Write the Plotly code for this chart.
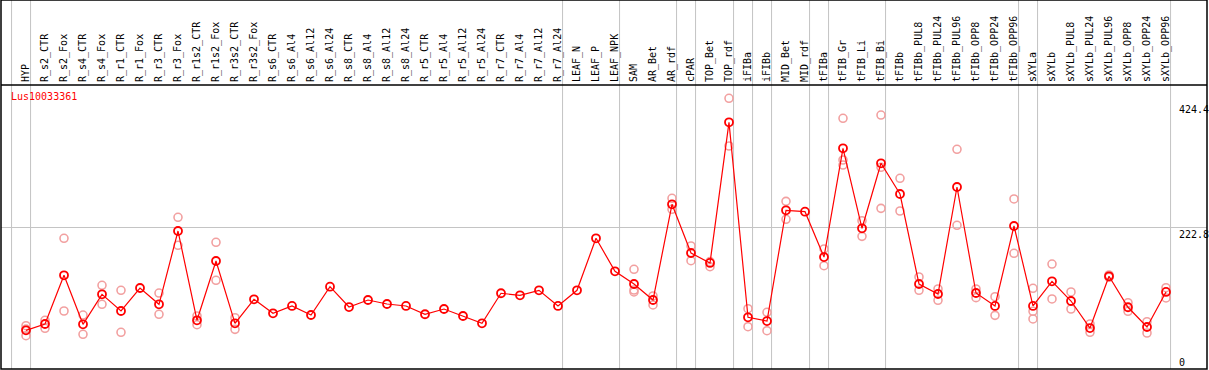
import plotly.graph_objects as go

gene = "Lus10033361"

categories = [
    "HYP", "R_s2_CTR", "R_s2_Fox", "R_s4_CTR", "R_s4_Fox", "R_r1_CTR", "R_r1_Fox",
    "R_r3_CTR", "R_r3_Fox", "R_r1s2_CTR", "R_r1s2_Fox", "R_r3s2_CTR", "R_r3s2_Fox",
    "R_s6_CTR", "R_s6_Al4", "R_s6_Al12", "R_s6_Al24", "R_s8_CTR", "R_s8_Al4",
    "R_s8_Al12", "R_s8_Al24", "R_r5_CTR", "R_r5_Al4", "R_r5_Al12", "R_r5_Al24",
    "R_r7_CTR", "R_r7_Al4", "R_r7_Al12", "R_r7_Al24", "LEAF_N", "LEAF_P", "LEAF_NPK",
    "SAM", "AR_Bet", "AR_rdf", "cPAR", "TOP_Bet", "TOP_rdf", "iFIBa", "iFIBb",
    "MID_Bet", "MID_rdf", "tFIBa", "tFIB_Gr", "tFIB_Li", "tFIB_Bi", "tFIBb",
    "tFIBb_PUL8", "tFIBb_PUL24", "tFIBb_PUL96", "tFIBb_OPP8", "tFIBb_OPP24",
    "tFIBb_OPP96", "sXYLa", "sXYLb", "sXYLb_PUL8", "sXYLb_PUL24", "sXYLb_PUL96",
    "sXYLb_OPP8", "sXYLb_OPP24", "sXYLb_OPP96",
]

means = [
    57.1, 67.3, 145.9, 66.8, 115.2, 88.3, 125.4, 99.1, 217.4, 73.3, 169.0, 68.4, 107.2,
    84.6, 96.4, 81.8, 127.5, 94.7, 106.0, 99.6, 96.4, 83.0, 91.5, 80.2, 68.4,
    116.9, 113.6, 121.7, 96.4, 121.7, 205.6, 152.4,
    131.9, 106.0, 260.5, 181.9, 165.8, 392.8, 78.1, 72.1, 250.8, 248.6, 175.4,
    350.9, 221.8, 326.7, 277.1, 131.9, 115.7, 288.4, 117.3, 96.4, 225.5,
    96.4, 136.2, 104.4, 60.8, 144.3, 94.3, 62.5, 119.0,
]

replicates = {
    "HYP": [64.6, 59.2, 48.4],
    "R_s2_CTR": [73.3, 60.4],
    "R_s2_Fox": [205.6, 88.3],
    "R_s4_CTR": [81.8, 50.7],
    "R_s4_Fox": [129.8, 99.1],
    "R_r1_CTR": [121.7, 53.9],
    "R_r3_CTR": [117.3, 83.0],
    "R_r3_Fox": [239.5, 194.3],
    "R_r1s2_CTR": [80.2, 66.2],
    "R_r1s2_Fox": [199.2, 137.8],
    "R_r3s2_CTR": [77.5, 58.7],
    "SAM": [155.6, 122.2, 119.0],
    "AR_Bet": [112.5, 98.0],
    "AR_rdf": [270.2, 252.4],
    "cPAR": [193.2, 169.5],
    "TOP_Bet": [167.9, 159.8],
    "TOP_rdf": [431.6, 354.6],
    "iFIBa": [92.0, 62.9],
    "iFIBb": [86.2, 56.5],
    "MID_Bet": [265.3, 236.3],
    "tFIBa": [188.4, 161.4],
    "tFIB_Gr": [399.3, 332.0, 323.9],
    "tFIB_Li": [234.0, 208.8],
    "tFIB_Bi": [404.6, 320.2, 254.0],
    "tFIBb": [302.5, 249.7],
    "tFIBb_PUL8": [143.2, 121.7],
    "tFIBb_PUL24": [123.8, 105.6],
    "tFIBb_PUL96": [349.3, 226.6],
    "tFIBb_OPP8": [123.8, 109.8],
    "tFIBb_OPP24": [111.4, 81.3],
    "tFIBb_OPP96": [269.1, 181.4],
    "sXYLa": [124.9, 87.8, 75.4],
    "sXYLb": [164.1, 107.7],
    "sXYLb_PUL8": [119.0, 91.5],
    "sXYLb_PUL24": [67.3, 53.9],
    "sXYLb_PUL96": [146.4, 142.7],
    "sXYLb_OPP8": [101.7, 87.8],
    "sXYLb_OPP24": [71.0, 52.8],
    "sXYLb_OPP96": [125.9, 109.3],
}

# group separators are drawn after these categories (None = before the first)
group_ends = [None, "HYP", "R_r7_Al24", "LEAF_NPK", "AR_rdf", "cPAR", "TOP_rdf",
              "iFIBa", "iFIBb", "MID_rdf", "tFIBa", "tFIB_Bi", "tFIBb_OPP96",
              "sXYLa", "sXYLb_OPP96"]

scale_ticks = [0, 222.8, 424.4]

FONT = "DejaVu Sans Mono"
W, H = 1209, 370
ML, MR, MT, MB = 1, 2, 85, 1

xs = list(range(len(categories)))
rep_x, rep_y = [], []
for i, c in enumerate(categories):
    for v in replicates.get(c, []):
        rep_x.append(i)
        rep_y.append(v)

fig = go.Figure()
fig.add_trace(go.Scatter(
    x=rep_x, y=rep_y, mode="markers",
    marker=dict(symbol="circle-open", size=8, color="#f2a0a0",
                line=dict(width=1.6, color="#f2a0a0")),
    showlegend=False, hoverinfo="skip"))
fig.add_trace(go.Scatter(
    x=xs, y=means, mode="lines+markers",
    line=dict(color="#ff0000", width=1.2),
    marker=dict(symbol="circle-open", size=8, color="#ff0000",
                line=dict(width=1.8, color="#ff0000")),
    showlegend=False))

# pixel geometry -> axis ranges
x_step = 19.0
x_first_px = 26.0
plot_w = W - ML - MR
x_lo = (ML - x_first_px) / x_step
x_hi = x_lo + plot_w / x_step
y_per_px = 1.614
zero_px = 365.7
y_lo = (zero_px - (H - MB)) * y_per_px
y_hi = (zero_px - MT) * y_per_px

plot_h = H - MT - MB
top_paper = 1 + MT / plot_h

shapes = []
for g in group_ends:
    idx = -1 if g is None else categories.index(g)
    xv = idx + 0.24
    shapes.append(dict(type="line", xref="x", yref="paper", x0=xv, x1=xv,
                       y0=0, y1=top_paper, line=dict(color="#c4c4c4", width=1),
                       layer="below"))
shapes.append(dict(type="rect", xref="paper", yref="paper", x0=0, x1=1,
                   y0=0, y1=top_paper, line=dict(color="black", width=1.5)))
shapes.append(dict(type="line", xref="paper", yref="paper", x0=0, x1=1,
                   y0=1, y1=1, line=dict(color="black", width=1.5)))

annotations = [dict(text=gene, xref="paper", yref="paper", x=8 / plot_w,
                    y=1 - 12 / plot_h, xanchor="left", yanchor="middle",
                    showarrow=False, font=dict(family=FONT, size=10, color="#ff0000"))]
lab_x = (1178 - x_first_px) / x_step
for t in scale_ticks:
    lbl = ("%.1f" % t) if t else "0"
    annotations.append(dict(text=lbl, x=lab_x, y=t, xref="x", yref="y",
                            xanchor="left", yanchor="bottom" if t == 0 else "top",
                            yshift=-3 if t == 0 else 0,
                            showarrow=False, borderpad=0,
                            font=dict(family=FONT, size=10, color="black")))

fig.update_layout(
    width=W, height=H,
    margin=dict(l=ML, r=MR, t=MT, b=MB, pad=0),
    paper_bgcolor="white", plot_bgcolor="white",
    shapes=shapes, annotations=annotations,
    xaxis=dict(range=[x_lo, x_hi], tickmode="array", tickvals=xs, ticktext=categories,
               side="top", tickangle=-90, showgrid=False, zeroline=False,
               showline=False, ticks="", ticklabelstandoff=2,
               tickfont=dict(family=FONT, size=10, color="black")),
    yaxis=dict(range=[y_lo, y_hi], tickmode="array", tickvals=[scale_ticks[1]],
               showticklabels=False, showgrid=True, gridcolor="#c4c4c4", gridwidth=1,
               zeroline=False, showline=False, ticks=""),
    showlegend=False,
)

fig.write_html("out.html", config={"displayModeBar": False},
               post_script="document.body.style.margin='0';document.body.style.overflow='hidden';")
